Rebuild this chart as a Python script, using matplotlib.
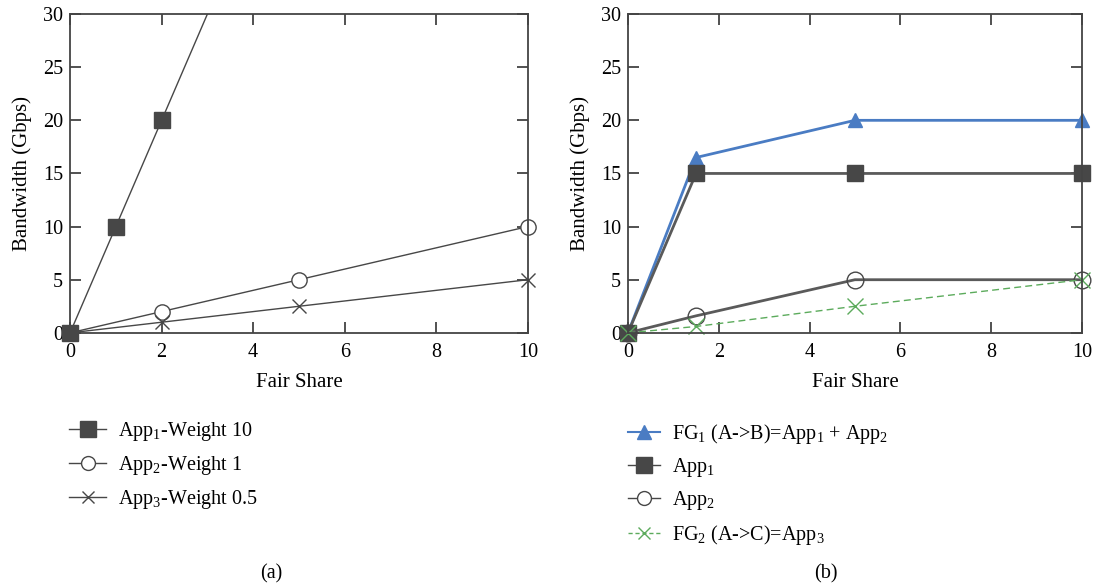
import matplotlib
matplotlib.use('Agg')
import matplotlib.pyplot as plt

# data, panel (a)
xa = [0, 1, 2, 5, 10]
app1_a = [0, 10, 20, 50, 100]
xa2 = [0, 2, 5, 10]
app2_a = [0, 2, 5, 10]
app3_a = [0, 1, 2.5, 5]

# data, panel (b)
xb = [0, 1.5, 5, 10]
fg1_b = [0, 16.5, 20, 20]
app1_b = [0, 15, 15, 15]
app2_b = [0, 1.6, 5, 5]
fg2_b = [0, 0.6, 2.5, 5]

xticks = [0, 2, 4, 6, 8, 10]
yticks = [0, 5, 10, 15, 20, 25, 30]

plt.rcParams['font.family'] = ['Liberation Serif', 'DejaVu Serif']
plt.rcParams['mathtext.default'] = 'regular'

gray = '#474747'
blue = '#4a7cc3'
green = '#5cab5c'

fig = plt.figure(figsize=(10.95, 5.86), dpi=100)
ax1 = fig.add_axes([0.064, 0.432, 0.418, 0.544])
ax2 = fig.add_axes([0.5735, 0.432, 0.4145, 0.544])


def style(ax):
    ax.set_xlim(0, 10)
    ax.set_ylim(0, 30)
    ax.set_xticks(xticks)
    ax.set_yticks(yticks)
    ax.tick_params(direction='in', top=True, right=True, length=8,
                   width=1.2, color='#333333', labelsize=14.5)
    ax.tick_params(axis='x', pad=7)
    ax.tick_params(axis='y', pad=5)
    for s in ax.spines.values():
        s.set_color('#444444')
        s.set_linewidth(1.3)
    ax.set_xlabel('Fair Share', fontsize=15, labelpad=8)
    ax.set_ylabel('Bandwidth (Gbps)', fontsize=15, labelpad=8)


# panel (a)
# line clipped at the top, markers drawn unclipped so the ones on the axes show whole
ax1.plot(xa, app1_a, color=gray, lw=1)
ax1.plot(xa, app1_a, ls='none', marker='s', ms=12, mfc=gray, mec=gray,
         markevery=[0, 1, 2], clip_on=False, zorder=5)
ax1.plot(xa2, app2_a, color=gray, lw=1, marker='o', ms=11, mfc='white',
         mec=gray, clip_on=False)
ax1.plot(xa2, app3_a, color=gray, lw=1, marker='x', ms=10, mew=1,
         mec=gray, clip_on=False)
style(ax1)

h1 = [
    plt.Line2D([], [], color=gray, lw=1, marker='s', ms=11, mfc=gray, mec=gray),
    plt.Line2D([], [], color=gray, lw=1, marker='o', ms=10, mfc='white', mec=gray),
    plt.Line2D([], [], color=gray, lw=1, marker='x', ms=9, mec=gray),
]
l1 = ['App$_1$-Weight 10', 'App$_2$-Weight 1', 'App$_3$-Weight 0.5']

# panel (b)
ax2.plot(xb, fg1_b, color=blue, lw=2, marker='^', ms=10, mfc=blue,
         mec=blue, clip_on=False)
ax2.plot(xb, app1_b, color='#5a5a5a', lw=2, marker='s', ms=12, mfc=gray,
         mec=gray, clip_on=False)
ax2.plot(xb, app2_b, color='#5a5a5a', lw=2, marker='o', ms=12,
         mfc='none', mec=gray, clip_on=False)
ax2.plot(xb, fg2_b, color=green, lw=1, ls=(0, (5, 3)), marker='x', ms=11,
         mew=1, mec=green, clip_on=False)
style(ax2)

h2 = [
    plt.Line2D([], [], color=blue, lw=1.5, marker='^', ms=10, mfc=blue, mec=blue),
    plt.Line2D([], [], color=gray, lw=1, marker='s', ms=12, mfc=gray, mec=gray),
    plt.Line2D([], [], color=gray, lw=1, marker='o', ms=10, mfc='white', mec=gray),
    plt.Line2D([], [], color=green, lw=1, ls=(0, (3, 2)), marker='x', ms=9, mec=green),
]
l2 = ['FG$_1$ (A->B)=App$_1$ + App$_2$', 'App$_1$', 'App$_2$',
      'FG$_2$ (A->C)=App$_3$']

ax1.legend(h1, l1, loc='upper left', bbox_to_anchor=(0.056, 0.297),
           bbox_transform=fig.transFigure, frameon=False, handlelength=1.8,
           handletextpad=0.6, labelspacing=0.55, fontsize=14.5, borderaxespad=0)
ax2.legend(h2, l2, loc='upper left', bbox_to_anchor=(0.566, 0.293),
           bbox_transform=fig.transFigure, frameon=False, handlelength=1.6,
           handletextpad=0.6, labelspacing=0.5, fontsize=14.5, borderaxespad=0)

fig.text(0.248, 0.013, '(a)', ha='center', fontsize=14.5)
fig.text(0.754, 0.013, '(b)', ha='center', fontsize=14.5)

fig.savefig('out.png', dpi=100)
